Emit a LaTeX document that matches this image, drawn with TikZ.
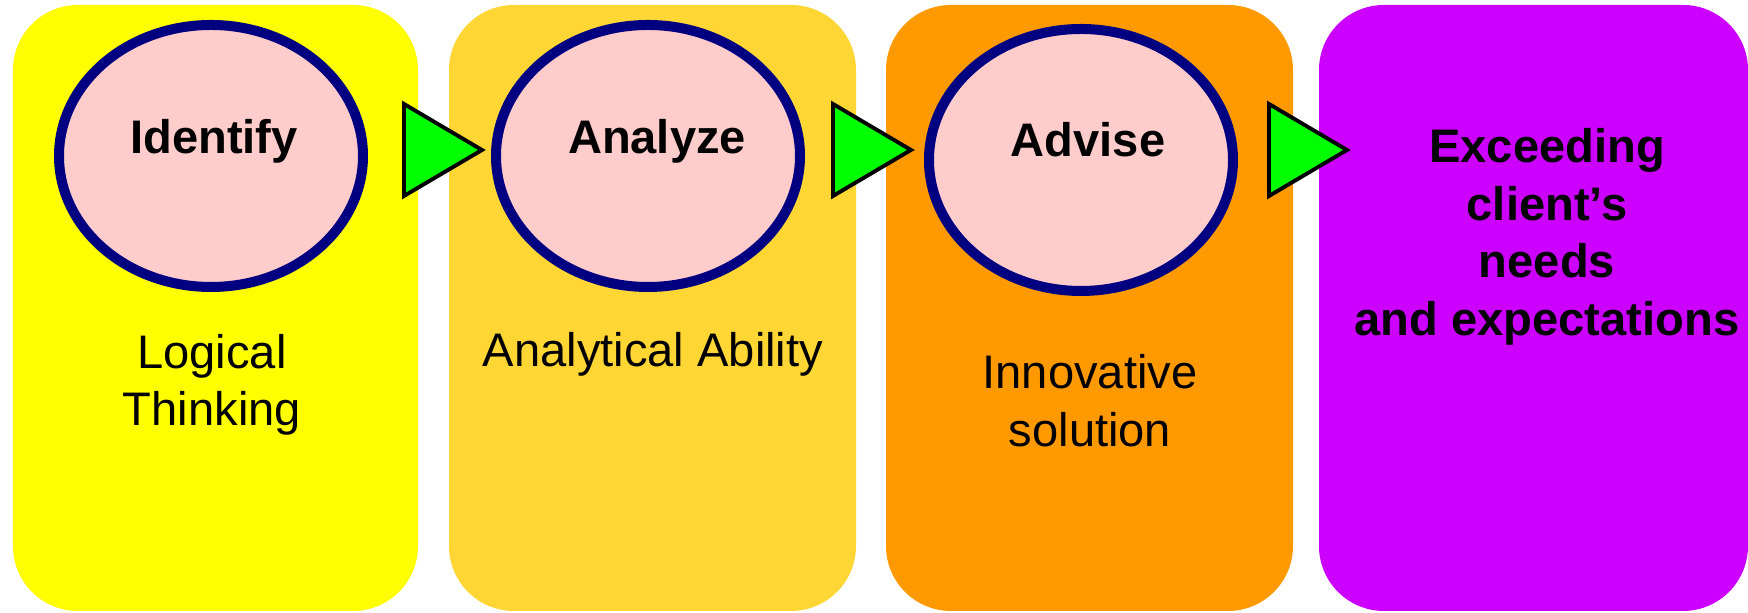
\documentclass[tikz,border=0pt]{standalone}
\usepackage{fontspec}
\setmainfont{Liberation Sans}
\usetikzlibrary{calc}
\usetikzlibrary{shapes.geometric}

\definecolor{amarelo}{HTML}{FFFF00}
\definecolor{ouro}{HTML}{FFD633}
\definecolor{laranja}{HTML}{FF9900}
\definecolor{roxo}{HTML}{CC00FF}
\definecolor{rosa}{HTML}{FFCCCC}
\definecolor{marinho}{HTML}{000080}
\definecolor{verde}{HTML}{00FF00}

\begin{document}
\begin{tikzpicture}[
      caixa/.style={rectangle, rounded corners=0.65cm, minimum height=6.06cm, inner sep=0pt},
      etapa/.style={ellipse, draw=marinho, fill=rosa, line width=0.1cm, minimum width=3.04cm, minimum height=2.62cm},
      seta/.style={fill=verde, draw=black, line width=1.1pt, line join=miter},
      texto/.style={font=\fontsize{13.4}{16.4}\selectfont, align=center, inner sep=0pt},
      titulo/.style={texto, font=\fontsize{13.4}{16.4}\selectfont\bfseries}
    ]
    \useasboundingbox (0,0) rectangle (17.48,6.13);
    % Caixas
    \node[caixa, fill=amarelo, minimum width=4.05cm] (c1) at (2.155,3.05) {};
    \node[caixa, fill=ouro, minimum width=4.07cm] (c2) at (6.525,3.05) {};
    \node[caixa, fill=laranja, minimum width=4.07cm] (c3) at (10.895,3.05) {};
    \node[caixa, fill=roxo, minimum width=4.29cm] (c4) at (15.335,3.05) {};
    % Elipses
    \node[etapa] (e1) at (2.11,4.57) {};
    \node[etapa] (e2) at (6.48,4.57) {};
    \node[etapa] (e3) at (10.81,4.53) {};
    \node[titulo, anchor=base] (t1) at ($(e1.center)+(0.03,0.02)$) {Identify};
    \node[titulo, anchor=base] (t2) at ($(e2.center)+(0.09,0.02)$) {Analyze};
    \node[titulo, anchor=base] (t3) at ($(e3.center)+(0.07,0.03)$) {Advise};
    % Setas
    \foreach \x/\n in {4.04/1, 8.33/2, 12.69/3} {
      \coordinate (s\n) at (\x,4.63);
      \draw[seta] ($(s\n)+(0,0.46)$) -- ($(s\n)+(0.78,0)$) -- ($(s\n)+(0,-0.46)$) -- cycle;
    }
    % Textos
    \node[texto] (d1) at (2.12,2.28) {Logical\\Thinking};
    \node[texto] (d2) at (6.53,2.59) {Analytical Ability};
    \node[texto] (d3) at (10.90,2.12) {Innovative\\solution};
    \node[titulo] (d4) at (15.47,3.76) {Exceeding\\client’s\\needs\\and expectations};
  \end{tikzpicture}
\end{document}
